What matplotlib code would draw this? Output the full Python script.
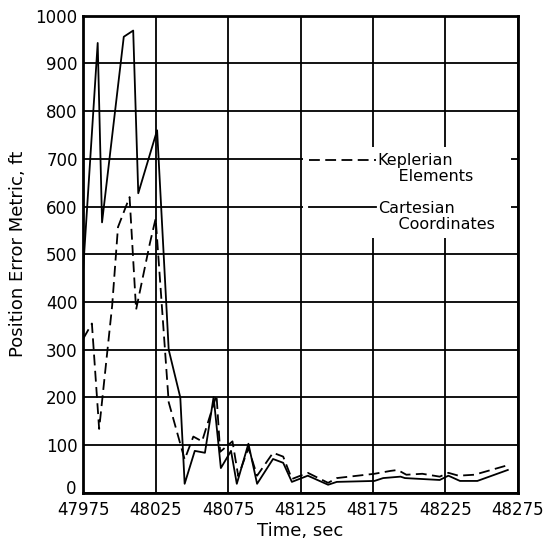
import matplotlib.pyplot as plt
import matplotlib.transforms as mtransforms
from matplotlib.lines import Line2D

# Cartesian coordinates solution (solid curve)
t_cart = [47975, 47985, 47988, 48003, 48009.5, 48013, 48026, 48034, 48042, 48045,
          48052, 48059, 48065, 48070, 48077, 48081, 48089, 48095, 48106, 48113,
          48119, 48130, 48144, 48150, 48176, 48182, 48194, 48197, 48221, 48227,
          48235, 48247, 48268]
err_cart = [470, 943, 567, 956, 969, 628, 760, 300, 200, 19,
            88, 84, 201, 52, 88, 19, 103, 19, 71, 63,
            23, 36, 17, 23, 25, 31, 34, 31, 27, 36,
            25, 25, 48]

# Keplerian elements solution (dashed curve)
t_kep = [47975, 47981, 47986, 47995, 47999, 48007, 48011.5, 48021, 48025, 48034,
         48045, 48051, 48057, 48067, 48069.5, 48078, 48082, 48089, 48095, 48106,
         48113, 48119, 48130, 48144, 48150, 48176, 48187, 48192, 48198, 48209,
         48221, 48227, 48234, 48245, 48268]
err_kep = [323, 355, 134, 393, 557, 620, 384, 523, 575, 190,
           70, 118, 108, 205, 86, 108, 35, 94, 36, 84,
           76, 29, 42, 21, 31, 40, 46, 48, 38, 40,
           34, 42, 36, 38, 58]

xticks = [47975, 48025, 48075, 48125, 48175, 48225, 48275]
yticks = [0, 100, 200, 300, 400, 500, 600, 700, 800, 900, 1000]

plt.rcParams['font.family'] = 'DejaVu Sans'

fig = plt.figure(figsize=(5.51, 5.44), dpi=100)
ax = fig.add_axes([0.151, 0.094, 0.789, 0.877])

dash = (0, (6, 3))
kep_line, = ax.plot(t_kep, err_kep, color='black', lw=1.3, linestyle=dash)
cart_line, = ax.plot(t_cart, err_cart, color='black', lw=1.3)

ax.set_xlim(47975, 48275)
ax.set_ylim(0, 1000)
ax.set_xticks(xticks)
ax.set_yticks(yticks)
ax.set_xticklabels([str(v) for v in xticks])
ax.tick_params(length=0, labelsize=12, pad=4)
ax.tick_params(axis='x', pad=6)
ax.grid(True, color='black', lw=1.3)
ax.set_axisbelow(True)
for s in ax.spines.values():
    s.set_linewidth(2)

# lift the "0" label a little so it clears the first time label
zero_lbl = ax.yaxis.get_major_ticks()[0].label1
zero_lbl.set_transform(zero_lbl.get_transform()
                       + mtransforms.ScaledTranslation(-1 / 72, 4 / 72, fig.dpi_scale_trans))

ax.set_xlabel('Time, sec', fontsize=13, labelpad=2)
ax.set_ylabel('Position Error Metric, ft', fontsize=13, labelpad=6)

# legend keys sit on the first line of each two-line label,
# with a blank row between the two entries
blank = Line2D([], [], color='none')
ax.legend([kep_line, blank, blank, cart_line, blank],
          ['Keplerian', '    Elements', ' ', 'Cartesian', '    Coordinates'],
          loc='upper left', bbox_to_anchor=(0.505, 0.725, 0.48, 0.0),
          mode='expand', frameon=True, facecolor='white', edgecolor='none',
          framealpha=1, fancybox=False, handlelength=4.2, handletextpad=0.1,
          fontsize=11.5, labelspacing=0.05, borderaxespad=0, borderpad=0.4)

fig.savefig('out.png', dpi=100)
